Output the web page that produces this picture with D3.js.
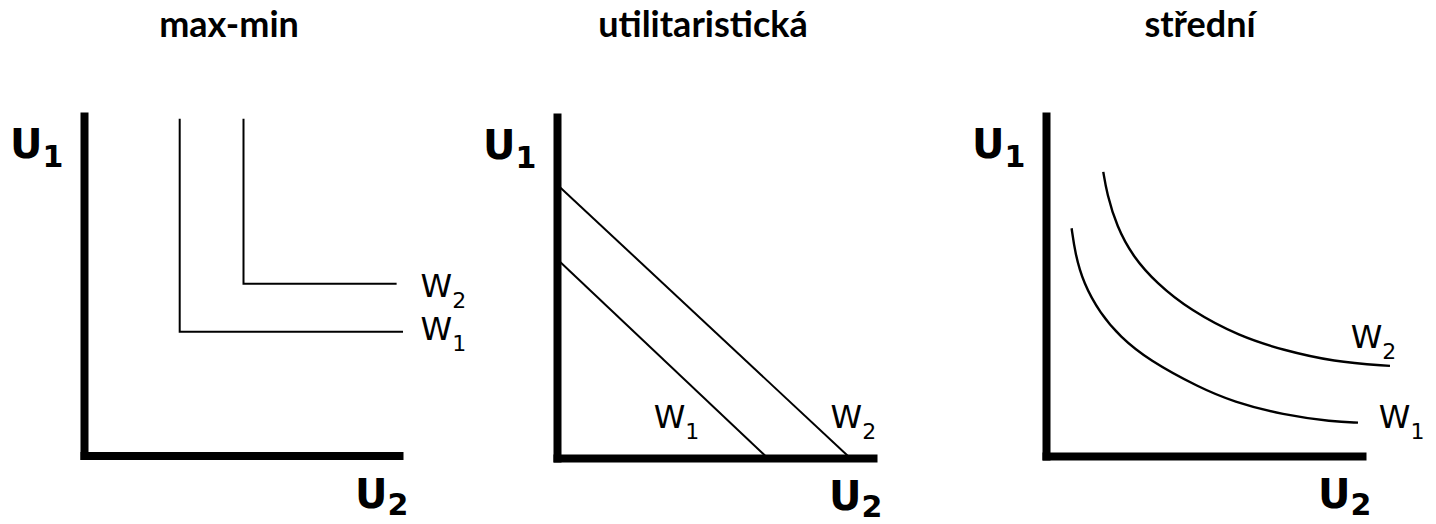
<!DOCTYPE html>
<html>
<head>
<meta charset="utf-8">
<title>Funkce blahobytu</title>
<script src="https://cdn.jsdelivr.net/npm/d3@7"></script>
<style>
  body { margin: 0; background: #fff; }
  .title { font-family: Lato, "Open Sans", sans-serif; font-weight: bold; font-size: 36px; }
  .axlab { font-family: "DejaVu Sans", Verdana, sans-serif; font-weight: bold; font-size: 40px; }
  .axlab .sub { font-size: 30px; }
  .wlab { font-family: "DejaVu Sans", Verdana, sans-serif; font-size: 32px; }
  .wlab .sub { font-size: 22px; }
</style>
</head>
<body>
<svg width="1436" height="524"></svg>
<script>
// panel titles
var titles = ["max-min", "utilitaristická", "střední"];

// indifference curves, in axis units (0-100 along U2 and U1)
var maxminW1 = [[30, 98], [30, 36], [100, 36]];
var maxminW2 = [[50, 98], [50, 50], [98, 50]];

var utilW1 = [[0, 57.7], [65.8, 0]];
var utilW2 = [[0, 79.3], [91.6, 0]];

var midW1 = [[8.0, 66.2], [9.1, 58.9], [11.7, 50.2], [16.9, 41.5], [23.1, 34.7], [32.0, 27.9],
             [48.1, 19.8], [58.4, 15.8], [74.1, 11.9], [89.7, 10.0], [97.5, 9.7]];
var midW2 = [[17.9, 82.6], [19.0, 76.4], [22.1, 66.7], [27.2, 57.9], [34.6, 50.2], [45.0, 42.4],
             [60.6, 34.7], [74.1, 30.8], [89.7, 27.4], [107.5, 26.2]];

// curve names and where their labels sit (axis units)
var names = ["W1", "W2"];
var maxminLab = [[105.5, 33.6], [105.5, 46.1]];
var utilLab = [[30.2, 8.7], [85.5, 8.7]];
var midLab = [[104.0, 8.1], [95.2, 31.4]];

var panels = [
  { curves: [maxminW1, maxminW2], labs: maxminLab, smooth: false,
    x0: 84, x1: 403, y0: 455.5, y1: 112, tx: 229 },
  { curves: [utilW1, utilW2], labs: utilLab, smooth: false,
    x0: 557, x1: 877, y0: 458, y1: 113, tx: 703 },
  { curves: [midW1, midW2], labs: midLab, smooth: true,
    x0: 1046, x1: 1366, y0: 456, y1: 112, tx: 1200 }
];

var svg = d3.select("svg");

panels.forEach(function(p, i) {
  var x = d3.scaleLinear().domain([0, 100]).range([p.x0, p.x1]);
  var y = d3.scaleLinear().domain([0, 100]).range([p.y0, p.y1]);

  var g = svg.append("g");

  // title
  g.append("text")
    .attr("class", "title")
    .attr("x", p.tx)
    .attr("y", 37)
    .attr("text-anchor", "middle")
    .text(titles[i]);

  // curves
  var line = d3.line()
    .x(function(d) { return x(d[0]); })
    .y(function(d) { return y(d[1]); })
    .curve(p.smooth ? d3.curveBasis : d3.curveLinear);

  g.selectAll("path.w")
    .data(p.curves)
    .enter().append("path")
      .attr("class", "w")
      .attr("d", line)
      .attr("fill", "none")
      .attr("stroke", "#000")
      .attr("stroke-width", p.smooth ? 2.4 : 2);

  // curve labels W1, W2
  var lab = g.selectAll("text.wlab")
    .data(p.labs)
    .enter().append("text")
      .attr("class", "wlab")
      .attr("x", function(d) { return x(d[0]); })
      .attr("y", function(d) { return y(d[1]); });
  lab.append("tspan").text("W");
  lab.append("tspan").attr("class", "sub").attr("dy", 11)
    .text(function(d, j) { return names[j].slice(1); });

  // thick axes, no ticks; square caps make the corner nub
  var xa = g.append("g")
    .attr("transform", "translate(0," + p.y0 + ")")
    .call(d3.axisBottom(x.copy().range([p.x0, p.x1 - 4])).tickValues([]).tickSizeOuter(0));
  var ya = g.append("g")
    .attr("transform", "translate(" + p.x0 + ",0)")
    .call(d3.axisLeft(y.copy().range([p.y0, p.y1 + 4])).tickValues([]).tickSizeOuter(0));
  [xa, ya].forEach(function(a) {
    a.select(".domain")
      .attr("stroke", "#000")
      .attr("stroke-width", 8)
      .attr("stroke-linecap", "square");
  });

  // axis names
  var u1 = g.append("text").attr("class", "axlab")
    .attr("x", p.x0 - 74).attr("y", p.y1 + 46);
  u1.append("tspan").text("U");
  u1.append("tspan").attr("class", "sub").attr("dy", 9).text("1");

  var u2 = g.append("text").attr("class", "axlab")
    .attr("x", p.x1 - 48).attr("y", p.y0 + 52);
  u2.append("tspan").text("U");
  u2.append("tspan").attr("class", "sub").attr("dy", 7).text("2");
});
</script>
</body>
</html>
